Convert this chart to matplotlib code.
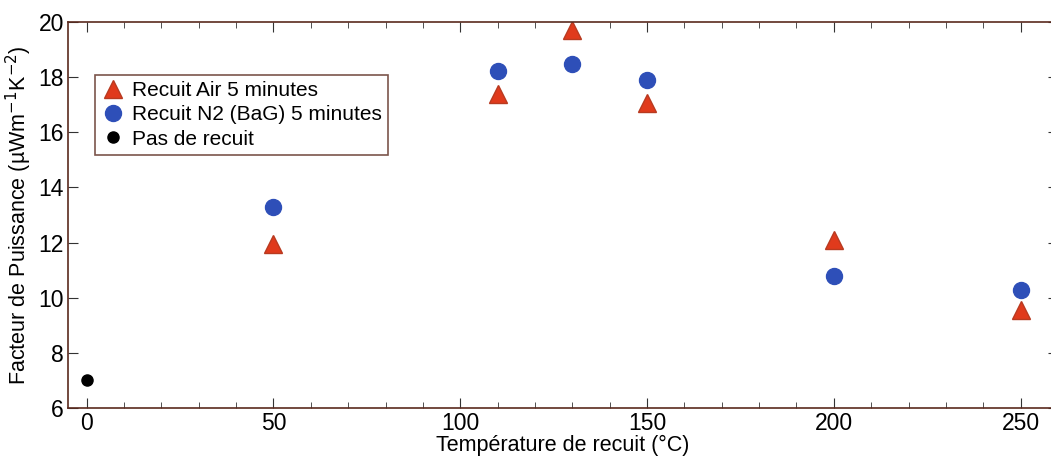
import matplotlib
matplotlib.use('Agg')
import matplotlib.pyplot as plt
from matplotlib.ticker import MultipleLocator

plt.rcParams['font.family'] = ['Liberation Sans', 'DejaVu Sans']

# données
temp_air = [50, 110, 130, 150, 200, 250]
pf_air = [11.95, 17.4, 19.7, 17.05, 12.1, 9.55]
temp_n2 = [50, 110, 130, 150, 200, 250]
pf_n2 = [13.3, 18.22, 18.48, 17.9, 10.8, 10.28]
temp_ref = [0]
pf_ref = [7.02]

fig = plt.figure(figsize=(10.51, 4.57), dpi=100)
# axe un peu plus large que la figure (bord droit coupé comme sur l'original)
ax = fig.add_axes([68 / 1051, 49 / 457, (1058 - 68) / 1051, (408 - 22) / 457])

ax.plot(temp_air, pf_air, linestyle='none', marker='^', markersize=13,
        color='#e03a1c', markeredgecolor='#b83a20', label='Recuit Air 5 minutes')
ax.plot(temp_n2, pf_n2, linestyle='none', marker='o', markersize=11.5,
        color='#2e4fb8', markeredgecolor='#2e4fb8', label='Recuit N2 (BaG) 5 minutes')
ax.plot(temp_ref, pf_ref, linestyle='none', marker='o', markersize=8,
        color='black', label='Pas de recuit')

ax.set_xlim(-5, 260)
ax.set_ylim(6, 20)
ax.xaxis.set_major_locator(MultipleLocator(50))
ax.xaxis.set_minor_locator(MultipleLocator(10))
ax.yaxis.set_major_locator(MultipleLocator(2))
ax.tick_params(which='both', direction='in', top=True, right=True, labelsize=16.5,
               color='#333333', pad=3)
ax.tick_params(which='major', length=7)
ax.tick_params(which='minor', length=4)

for s in ax.spines.values():
    s.set_color('#5a2a1e')
    s.set_linewidth(1.2)

ax.set_xlabel('Température de recuit (°C)', fontsize=15.5, labelpad=0)
ax.set_ylabel('Facteur de Puissance (µWm$^{-1}$K$^{-2}$)', fontsize=15.5, labelpad=3)

leg = ax.legend(loc='upper left', bbox_to_anchor=(0.027, 0.863), fontsize=15,
                frameon=True, fancybox=False, borderpad=0.3, handletextpad=0.3,
                labelspacing=0.25, handlelength=1.2, borderaxespad=0)
leg.get_frame().set_edgecolor('#5a2a1e')
leg.get_frame().set_linewidth(1.2)

fig.savefig('out.png', dpi=100)
